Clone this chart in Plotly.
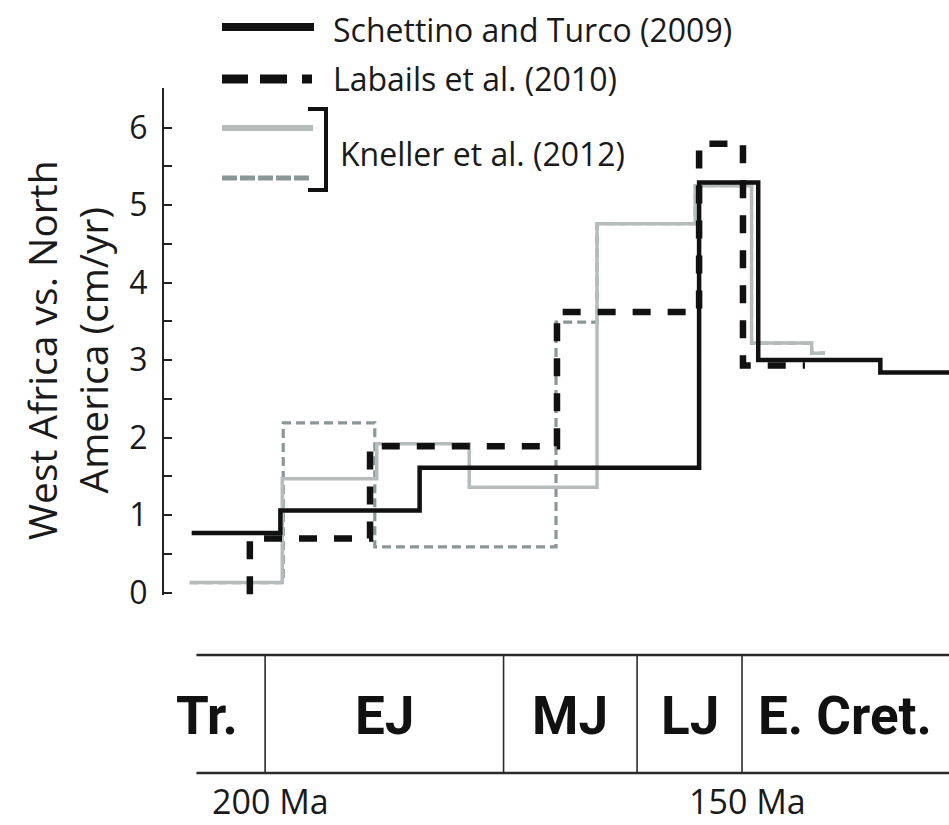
import plotly.graph_objects as go

# ---- Data: plate velocity steps (age in Ma, rate in cm/yr); each rate holds until the next age ----
schettino_age = [207.7, 198.4, 183.8, 154.5, 148.3, 135.5, 128.3]
schettino_rate = [0.77, 1.06, 1.61, 5.29, 3.00, 2.84, 2.84]

labails_age = [201.6, 201.6, 189.0, 169.4, 154.5, 149.9, 143.4]
labails_rate = [-0.02, 0.70, 1.89, 3.62, 5.79, 2.93, 2.93]

kneller_a_age = [207.9, 198.2, 188.3, 178.6, 165.2, 154.9, 149.0, 142.7, 141.3]
kneller_a_rate = [0.13, 1.47, 1.92, 1.36, 4.76, 5.25, 3.22, 3.09, 3.09]

kneller_b_age = [207.9, 198.1, 188.5, 169.5, 165.2, 154.9, 149.0, 142.7, 141.3]
kneller_b_rate = [0.13, 2.19, 0.59, 3.49, 4.76, 5.25, 3.22, 3.09, 3.09]

# ---- Geologic timescale ----
period_names = ["Tr.", "EJ", "MJ", "LJ", "E. Cret."]
period_label_age = [206.1, 187.5, 168.0, 155.5, 139.2]
period_boundaries = [200.0, 175.0, 161.0, 150.0]
timescale_start = 207.2
age_tick_vals = [200, 150]
age_tick_text = ["200 Ma", "150 Ma"]

y_tick_vals = [0, 1, 2, 3, 4, 5, 6]

legend_names = ["Schettino and Turco (2009)", "Labails et al. (2010)", "Kneller et al. (2012)"]

# ---- Layout geometry (pixels) ----
W, H = 949, 825
PL, PT, PW, PH = 164, 88, 785, 507


def px(x):
    return (x - PL) / PW


def py(y):
    return (PT + PH - y) / PH


BLACK = "#111111"
GREY_LIGHT = "#b6bcbc"
GREY_DARK = "#8b9797"
FONT = "Open Sans, Lato, DejaVu Sans, sans-serif"
COND = "Roboto, Liberation Sans, sans-serif"

fig = go.Figure()

fig.add_trace(go.Scatter(
    x=kneller_b_age, y=kneller_b_rate, mode="lines", line_shape="hv",
    line=dict(color=GREY_DARK, width=3.2, dash="9px,5px"), showlegend=False, hoverinfo="skip"))
fig.add_trace(go.Scatter(
    x=kneller_a_age, y=kneller_a_rate, mode="lines", line_shape="hv",
    line=dict(color=GREY_LIGHT, width=3.5), showlegend=False, hoverinfo="skip"))
fig.add_trace(go.Scatter(
    x=labails_age, y=labails_rate, mode="lines", line_shape="hv",
    line=dict(color=BLACK, width=6.5, dash="18px,17px"), showlegend=False, hoverinfo="skip"))
fig.add_trace(go.Scatter(
    x=schettino_age, y=schettino_rate, mode="lines", line_shape="hv",
    line=dict(color=BLACK, width=4.5), showlegend=False, hoverinfo="skip"))

shapes = []
# legend line samples
shapes.append(dict(type="line", xref="paper", yref="paper", x0=px(222), x1=px(314), y0=py(27), y1=py(27),
                   line=dict(color=BLACK, width=8)))
shapes.append(dict(type="line", xref="paper", yref="paper", x0=px(222), x1=px(312), y0=py(79), y1=py(79),
                   line=dict(color=BLACK, width=9, dash="26px,12px,27px,15px,10px")))
shapes.append(dict(type="line", xref="paper", yref="paper", x0=px(222), x1=px(313), y0=py(128), y1=py(128),
                   line=dict(color=GREY_LIGHT, width=6)))
shapes.append(dict(type="line", xref="paper", yref="paper", x0=px(222), x1=px(309), y0=py(178), y1=py(178),
                   line=dict(color=GREY_DARK, width=5, dash="15px,3px")))
# bracket grouping the two Kneller curves
shapes.append(dict(type="path", xref="paper", yref="paper",
                   path=f"M {px(308)},{py(109)} L {px(326)},{py(109)} L {px(326)},{py(190)} L {px(308)},{py(190)}",
                   line=dict(color=BLACK, width=4)))

# timescale box
ts_top, ts_bot = py(655), py(773)
for yy in (ts_top, ts_bot):
    shapes.append(dict(type="line", xref="x", yref="paper", x0=timescale_start, x1=120, y0=yy, y1=yy,
                       line=dict(color="#2a2a2a", width=2.5)))
for b in period_boundaries:
    shapes.append(dict(type="line", xref="x", yref="paper", x0=b, x1=b, y0=ts_top, y1=ts_bot,
                       line=dict(color="#2a2a2a", width=1.6)))

annotations = []
annotations.append(dict(text="West Africa vs. North<br>America (cm/yr)", xref="paper", yref="paper",
                        x=px(67), y=py(350), xanchor="center", yanchor="middle", textangle=-90,
                        showarrow=False, font=dict(family=FONT, size=39, color="#1a1a1a")))
annotations.append(dict(text=legend_names[0], xref="paper", yref="paper", x=px(331), y=py(29),
                        xanchor="left", yanchor="middle", showarrow=False,
                        font=dict(family=FONT, size=32, color="#1a1a1a")))
annotations.append(dict(text=legend_names[1], xref="paper", yref="paper", x=px(331), y=py(79),
                        xanchor="left", yanchor="middle", showarrow=False,
                        font=dict(family=FONT, size=32, color="#1a1a1a")))
annotations.append(dict(text=legend_names[2], xref="paper", yref="paper", x=px(338), y=py(153),
                        xanchor="left", yanchor="middle", showarrow=False,
                        font=dict(family=FONT, size=32, color="#1a1a1a")))
for name, age in zip(period_names, period_label_age):
    annotations.append(dict(text=f"<b>{name}</b>", xref="x", yref="paper", x=age, y=py(716),
                            xanchor="center", yanchor="middle", showarrow=False,
                            font=dict(family=COND, size=53, color="#111111")))
for v, t in zip(age_tick_vals, age_tick_text):
    annotations.append(dict(text=t, xref="x", yref="paper", x=v, y=py(801), xshift=5,
                            xanchor="center", yanchor="middle", showarrow=False,
                            font=dict(family=FONT, size=34, color="#1a1a1a")))

fig.update_layout(
    width=W, height=H,
    margin=dict(l=PL, r=W - PL - PW, t=PT, b=H - PT - PH),
    paper_bgcolor="white", plot_bgcolor="white",
    showlegend=False,
    shapes=shapes, annotations=annotations,
    xaxis=dict(range=[210.6, 128.3], visible=False, showgrid=False, zeroline=False),
    yaxis=dict(range=[-0.03, 6.51], showgrid=False, zeroline=False,
               showline=True, linecolor="#222222", linewidth=2,
               ticks="inside", ticklen=8, tickwidth=2, tickcolor="#222222",
               tickvals=y_tick_vals, ticklabelstandoff=8,
               minor=dict(dtick=0.5, ticks="inside", ticklen=8, tickwidth=2, tickcolor="#222222"),
               tickfont=dict(family=FONT, size=32, color="#1a1a1a")),
)

fig.write_html("out.html")
